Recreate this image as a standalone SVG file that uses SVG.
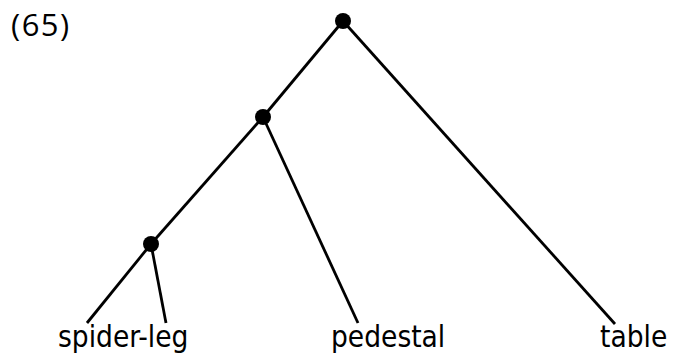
<svg xmlns="http://www.w3.org/2000/svg" width="675" height="356" viewBox="0 0 675 356">
<style>
.e{stroke:#000;stroke-width:2.8;fill:none;stroke-linecap:butt}
.n{fill:#000}
.t{font-family:"DejaVu Sans Condensed","DejaVu Sans",sans-serif;font-stretch:condensed;font-size:29.5px;fill:#000}
.h{font-family:"Open Sans","Noto Sans",sans-serif;font-size:31px;letter-spacing:1.5px;fill:#000}
</style>
<rect width="675" height="356" fill="#fff"/>
<text class="h" x="11" y="36">(65)</text>
<g id="edges">
<line class="e" x1="343" y1="21" x2="263" y2="117"/>
<line class="e" x1="343" y1="21" x2="615" y2="324"/>
<line class="e" x1="263" y1="117" x2="151" y2="244"/>
<line class="e" x1="263" y1="117" x2="358" y2="323"/>
<line class="e" x1="151" y1="244" x2="87" y2="323"/>
<line class="e" x1="151" y1="244" x2="166" y2="323"/>
</g>
<g id="root"><circle class="n" cx="343" cy="21" r="8"/></g>
<g id="mid"><circle class="n" cx="263" cy="117" r="8"/></g>
<g id="low"><circle class="n" cx="151" cy="244" r="8"/></g>
<g id="spider-leg"><text class="t" x="58" y="347">spider-leg</text></g>
<g id="pedestal"><text class="t" x="331" y="347">pedestal</text></g>
<g id="table"><text class="t" x="600" y="347">table</text></g>
</svg>
